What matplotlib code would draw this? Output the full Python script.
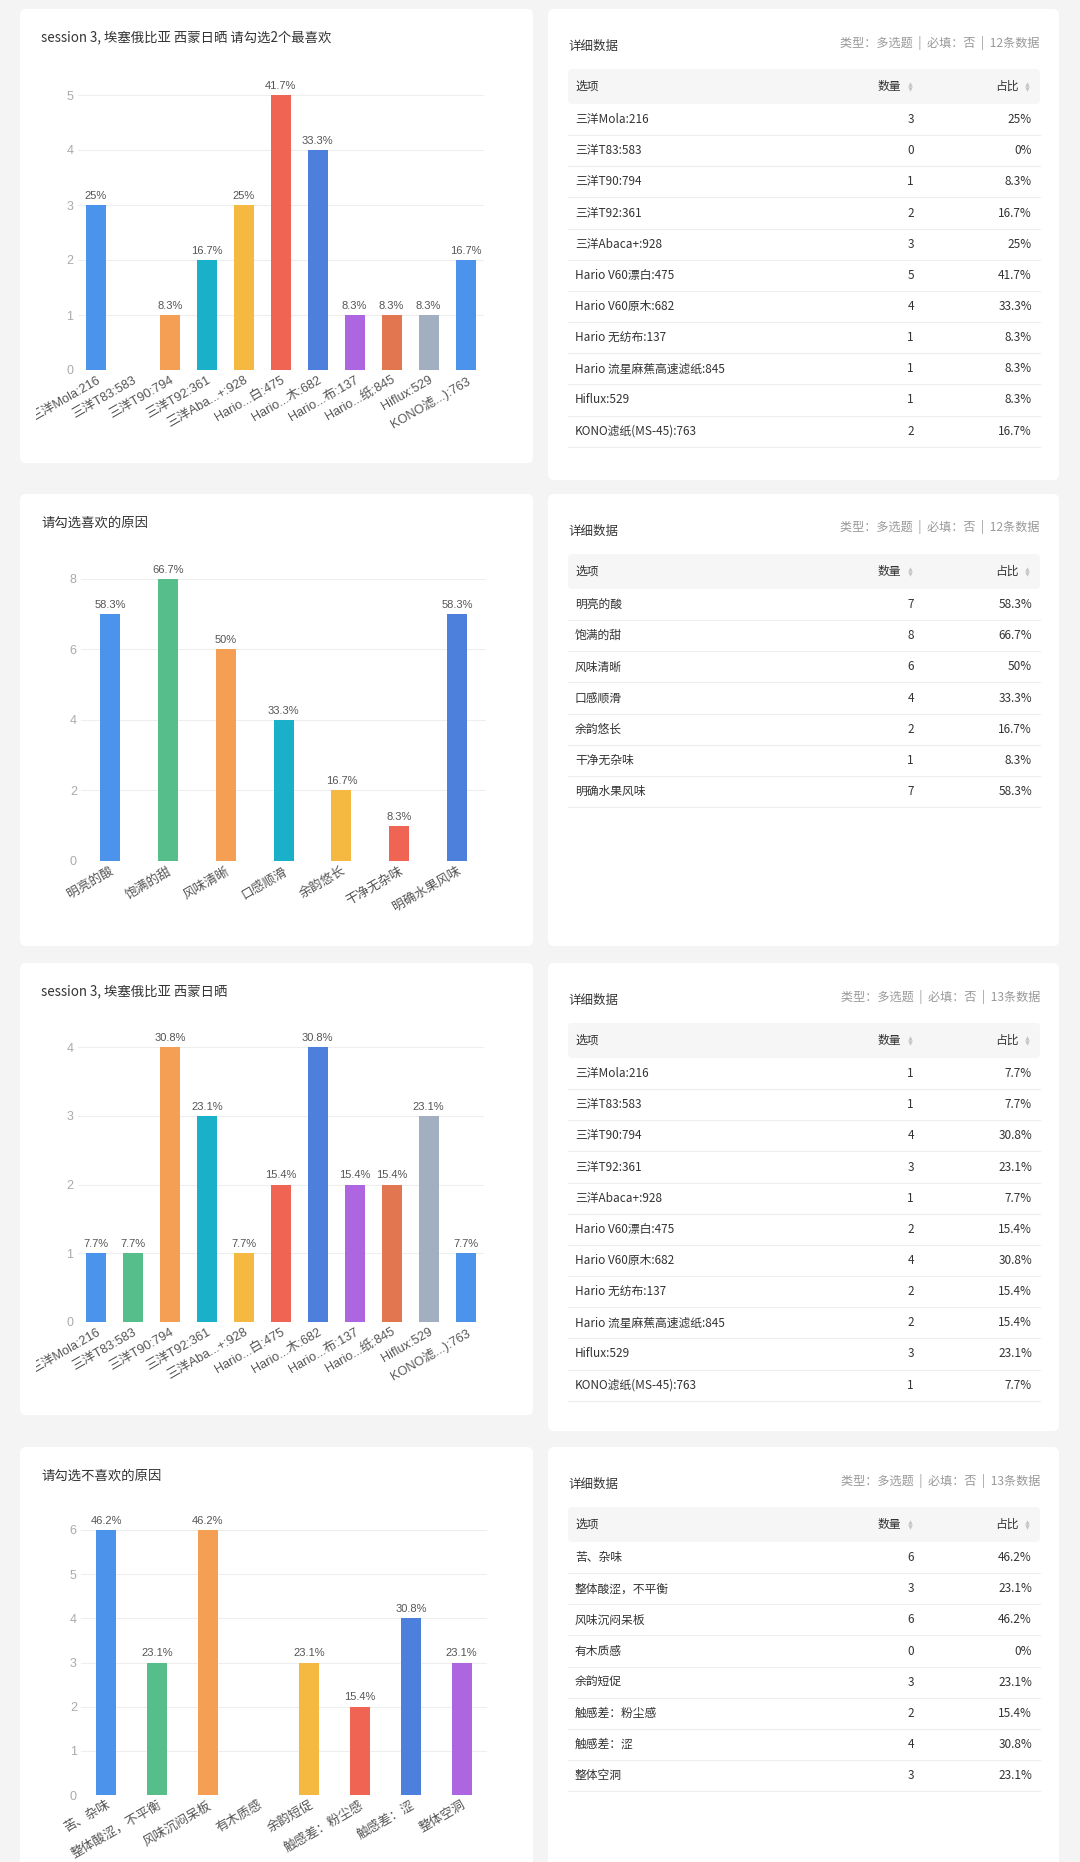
import matplotlib
matplotlib.use('Agg')
import matplotlib.pyplot as plt
from matplotlib.patches import FancyBboxPatch
from matplotlib.transforms import Bbox, TransformedBbox
import numpy as np

W, H = 1080, 1862
CJK = ['Noto Sans CJK SC', 'DejaVu Sans']
LAT = ['Liberation Sans', 'Noto Sans CJK SC', 'DejaVu Sans']
plt.rcParams['font.family'] = CJK

# ---------------- data ----------------
filter_names = ['三洋Mola:216', '三洋T83:583', '三洋T90:794', '三洋T92:361', '三洋Abaca+:928',
                'Hario V60漂白:475', 'Hario V60原木:682', 'Hario 无纺布:137',
                'Hario 流星麻蕉高速滤纸:845', 'Hiflux:529', 'KONO滤纸(MS-45):763']
filter_ticks = ['三洋Mola:216', '三洋T83:583', '三洋T90:794', '三洋T92:361', '三洋Aba...+:928',
                'Hario...白:475', 'Hario...木:682', 'Hario...布:137', 'Hario...纸:845',
                'Hiflux:529', 'KONO滤...):763']
fav_counts = [3, 0, 1, 2, 3, 5, 4, 1, 1, 1, 2]
fav_pct = ['25%', '0%', '8.3%', '16.7%', '25%', '41.7%', '33.3%', '8.3%', '8.3%', '8.3%', '16.7%']

like_reasons = ['明亮的酸', '饱满的甜', '风味清晰', '口感顺滑', '余韵悠长', '干净无杂味', '明确水果风味']
like_counts = [7, 8, 6, 4, 2, 1, 7]
like_pct = ['58.3%', '66.7%', '50%', '33.3%', '16.7%', '8.3%', '58.3%']

s3_counts = [1, 1, 4, 3, 1, 2, 4, 2, 2, 3, 1]
s3_pct = ['7.7%', '7.7%', '30.8%', '23.1%', '7.7%', '15.4%', '30.8%', '15.4%', '15.4%', '23.1%', '7.7%']

dislike_reasons = ['苦、杂味', '整体酸涩，不平衡', '风味沉闷呆板', '有木质感', '余韵短促',
                   '触感差：粉尘感', '触感差：涩', '整体空洞']
dislike_counts = [6, 3, 6, 0, 3, 2, 4, 3]
dislike_pct = ['46.2%', '23.1%', '46.2%', '0%', '23.1%', '15.4%', '30.8%', '23.1%']

titles = ['session 3, 埃塞俄比亚 西蒙日晒 请勾选2个最喜欢', '请勾选喜欢的原因',
          'session 3, 埃塞俄比亚 西蒙日晒', '请勾选不喜欢的原因']
n_answers = [12, 12, 13, 13]

PALETTE = ['#4c93ec', '#55be8a', '#f49f53', '#1ab0c9', '#f5b942',
           '#ef6453', '#4d80dd', '#ae66e0', '#e27650', '#a1afc1']

# ---------------- layout (pixels) ----------------
BG = '#f4f4f4'
row_tops = [9, 494, 963, 1447]
left_bottoms = [463, 946, 1415, 1880]
right_bottoms = [480, 946, 1431, 1880]
LX0, LX1 = 20, 533
RX0, RX1 = 548, 1059
chart_rects = [(77.5, 95, 484, 370), (81, 579, 486, 861),
               (77.5, 1047, 484, 1322), (81, 1530, 487, 1795)]
BAR_PX = 20
ROW_H = 31.15

fig = plt.figure(figsize=(W / 100, H / 100), dpi=100, facecolor=BG)
bg = fig.add_axes([0, 0, 1, 1], zorder=0)
bg.set_xlim(0, W)
bg.set_ylim(H, 0)
bg.axis('off')

for top, lb, rb in zip(row_tops, left_bottoms, right_bottoms):
    for x0, x1, b in [(LX0, LX1, lb), (RX0, RX1, rb)]:
        bg.add_patch(FancyBboxPatch((x0, top), x1 - x0, b - top,
                                    boxstyle='round,pad=0,rounding_size=6',
                                    fc='white', ec='none'))


def bar_chart(rect, ticks, counts, pcts, ymax, step, title, top):
    x0, y0, x1, y1 = rect
    ax = fig.add_axes([x0 / W, 1 - y1 / H, (x1 - x0) / W, (y1 - y0) / H], zorder=2)
    ax.patch.set_alpha(0)
    n = len(counts)
    xs = np.arange(n)
    width = BAR_PX / ((x1 - x0) / n)
    colors = [PALETTE[i % len(PALETTE)] for i in range(n)]
    ax.bar(xs, counts, width=width, color=colors, zorder=3)
    for x, c, p in zip(xs, counts, pcts):
        if c > 0:
            ax.annotate(p, (x, c), xytext=(0, 3), textcoords='offset points',
                        ha='center', va='bottom', fontsize=8, color='#555555',
                        family=LAT, annotation_clip=False)
    ax.set_xlim(-0.5, n - 0.5)
    ax.set_ylim(0, ymax)
    ax.set_yticks(np.arange(0, ymax + 1, step))
    ax.grid(axis='y', color='#eeeeee', lw=0.8, zorder=0)
    for s in ax.spines.values():
        s.set_visible(False)
    ax.tick_params(axis='both', length=0)
    ax.tick_params(axis='y', pad=3, labelcolor='#aaaaaa', labelsize=9)
    ax.set_xticks(xs)
    ax.set_xticklabels(ticks, rotation=30, ha='right', va='top',
                       rotation_mode='anchor', fontsize=9.2, color='#555555', family=LAT)
    ax.tick_params(axis='x', pad=3)
    for lbl in ax.get_yticklabels():
        lbl.set_family(LAT)
    # the page cuts the long first label at the card's inner margin
    clip = TransformedBbox(Bbox.from_extents(36 / W, 0, LX1 / W, 1), fig.transFigure)
    for lbl in ax.get_xticklabels():
        lbl.set_clip_box(clip)
        lbl.set_clip_on(True)
    bg.text(41, top + 28.5, title, fontsize=9.6, color='#333333', ha='left', va='center')
    return ax


def detail_table(top, names, counts, pcts, total):
    bg.text(568, top + 37, '详细数据', fontsize=9, color='#333333', ha='left', va='center')
    bg.text(1040, top + 33.5, f'类型：多选题  |  必填：否  |  {total}条数据',
            fontsize=8.7, color='#999999', ha='right', va='center')
    h0, h1 = top + 60, top + 95
    bg.add_patch(FancyBboxPatch((568, h0), 1040 - 568, h1 - h0,
                                boxstyle='round,pad=0,rounding_size=4',
                                fc='#f6f6f6', ec='none'))
    hy = (h0 + h1) / 2
    bg.text(575, hy, '选项', fontsize=8.5, color='#333333', ha='left', va='center')
    for label, xr, xi in [('数量', 901, 910), ('占比', 1019, 1027)]:
        bg.text(xr, hy, label, fontsize=8.5, color='#333333', ha='right', va='center')
        bg.plot(xi, hy - 2.6, marker='^', ms=3.2, color='#c4c4c4', mec='none')
        bg.plot(xi, hy + 2.6, marker='v', ms=3.2, color='#c4c4c4', mec='none')
    for i, (nm, c, p) in enumerate(zip(names, counts, pcts)):
        yc = h1 + (i + 0.5) * ROW_H
        bg.text(575, yc, nm, fontsize=8.5, color='#333333', ha='left', va='center')
        bg.text(914, yc, str(c), fontsize=8.5, color='#333333', ha='right', va='center')
        bg.text(1032, yc, p, fontsize=8.5, color='#333333', ha='right', va='center')
        bg.plot([568, 1040], [h1 + (i + 1) * ROW_H] * 2, color='#ededed', lw=0.8)


bar_chart(chart_rects[0], filter_ticks, fav_counts, fav_pct, 5, 1, titles[0], row_tops[0])
bar_chart(chart_rects[1], like_reasons, like_counts, like_pct, 8, 2, titles[1], row_tops[1])
bar_chart(chart_rects[2], filter_ticks, s3_counts, s3_pct, 4, 1, titles[2], row_tops[2])
bar_chart(chart_rects[3], dislike_reasons, dislike_counts, dislike_pct, 6, 1, titles[3], row_tops[3])

detail_table(row_tops[0], filter_names, fav_counts, fav_pct, n_answers[0])
detail_table(row_tops[1], like_reasons, like_counts, like_pct, n_answers[1])
detail_table(row_tops[2], filter_names, s3_counts, s3_pct, n_answers[2])
detail_table(row_tops[3], dislike_reasons, dislike_counts, dislike_pct, n_answers[3])

fig.savefig('out.png', dpi=100, facecolor=BG)
